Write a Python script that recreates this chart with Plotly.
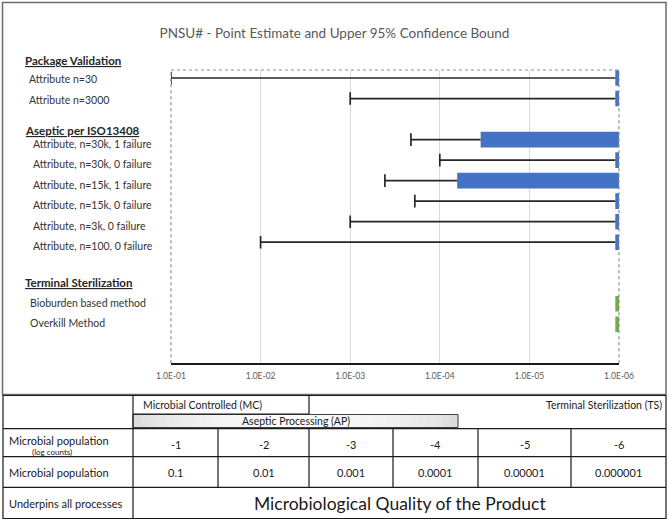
import numpy as np
import plotly.graph_objects as go

W, H = 669, 524

title = 'PNSU# - Point Estimate and Upper 95% Confidence Bound'

# chart data (point estimate and upper 95% bound)
pkg_labels = ['Attribute n=30', 'Attribute n=3000']
pkg_point = [1.1e-6, 1.1e-6]
pkg_upper = [1.0e-1, 1.0e-3]

aseptic_labels = ['Attribute, n=30k, 1 failure', 'Attribute, n=30k, 0 failure',
                  'Attribute, n=15k, 1 failure', 'Attribute, n=15k, 0 failure',
                  'Attribute, n=3k, 0 failure', 'Attribute, n=100, 0 failure']
aseptic_point = [3.5e-5, 1.1e-6, 6.4e-5, 1.1e-6, 1.1e-6, 1.1e-6]
aseptic_upper = [2.1e-4, 1.0e-4, 4.1e-4, 1.9e-4, 1.0e-3, 1.0e-2]

terminal_labels = ['Bioburden based method', 'Overkill Method']
terminal_point = [1.1e-6, 1.1e-6]

group_titles = ['Package Validation', 'Aseptic per ISO13408', 'Terminal Sterilization']

tick_vals = [1e-1, 1e-2, 1e-3, 1e-4, 1e-5, 1e-6]
tick_text = ['1.0E-01', '1.0E-02', '1.0E-03', '1.0E-04', '1.0E-05', '1.0E-06']

# table under the chart
header_mc = 'Microbial Controlled (MC)'
header_ts = 'Terminal Sterilization (TS)'
header_ap = 'Aseptic Processing (AP)'
row_titles = ['Microbial population', 'Microbial population', 'Underpins all processes']
row_sub = '(log counts)'
log_counts = ['-1', '-2', '-3', '-4', '-5', '-6']
populations = ['0.1', '0.01', '0.001', '0.0001', '0.00001', '0.000001']
footer = 'Microbiological Quality of the Product'

FONT = 'Lato'
BLUE = '#4472C4'
GREEN = '#70AD47'
floor = 1e-6


def fx(x):
    return x / W


def fy(y):
    return 1 - y / H


# category slots, blank ones keep the gaps between groups
cats = pkg_labels + [' '] + aseptic_labels + ['  ', '   '] + terminal_labels

blue_labels = pkg_labels + aseptic_labels
blue_point = np.array(pkg_point + aseptic_point)
blue_upper = np.array(pkg_upper + aseptic_upper)

fig = go.Figure()

fig.add_trace(go.Bar(y=blue_labels, x=blue_point - floor, base=floor,
                     orientation='h', width=0.76,
                     marker=dict(color=BLUE, line_width=0)))
fig.add_trace(go.Bar(y=terminal_labels, x=np.array(terminal_point) - floor, base=floor,
                     orientation='h', width=0.76,
                     marker=dict(color=GREEN, line_width=0)))

# whiskers to the upper bound
wx, wy = [], []
for lab, p, u in zip(blue_labels, blue_point, blue_upper):
    wx += [p, u, None]
    wy += [lab, lab, None]
fig.add_trace(go.Scatter(x=wx, y=wy, mode='lines',
                         line=dict(color='#262626', width=1.7)))
fig.add_trace(go.Scatter(x=blue_upper, y=blue_labels, mode='markers',
                         marker=dict(symbol='line-ns', size=9,
                                     line=dict(color='#262626', width=1.7))))

fig.update_layout(
    width=W, height=H, autosize=False,
    margin=dict(l=0, r=0, t=0, b=0, pad=0, autoexpand=False),
    paper_bgcolor='white', plot_bgcolor='white',
    showlegend=False, barmode='overlay',
    font=dict(family=FONT, color='#404040'),
    title=dict(text=title, x=0.5, xanchor='center', y=fy(33), yanchor='middle',
               font=dict(family=FONT, size=13.5, color='#595959')),
    xaxis=dict(type='log', range=[-1, -6], domain=[fx(171), fx(619)],
               tickvals=tick_vals, ticktext=tick_text, ticks='',
               tickfont=dict(size=8.5, color='#595959'), ticklabelstandoff=4,
               showgrid=True, gridcolor='#d9d9d9', gridwidth=1,
               showline=True, linecolor='#1a1a1a', linewidth=1.5,
               zeroline=False, automargin=False),
    yaxis=dict(type='category', categoryorder='array', categoryarray=cats,
               range=[13.9, -0.39], domain=[fy(363.3), fy(70)],
               showticklabels=False, showgrid=False, zeroline=False,
               showline=False, automargin=False),
)

# dotted plot-area border (top, left, right)
for x0, y0, x1, y1 in [(0, 1, 1, 1), (0, 0, 0, 1), (1, 0, 1, 1)]:
    fig.add_shape(type='line', xref='x domain', yref='y domain',
                  x0=x0, y0=y0, x1=x1, y1=y1,
                  line=dict(color='#8c8c8c', width=1.2, dash='dot'))

# outer chart frame
fig.add_shape(type='rect', xref='paper', yref='paper',
              x0=fx(2.5), y0=fy(394.5), x1=fx(666), y1=fy(2.5),
              line=dict(color='#6b6b6b', width=1.5))

# row labels
label_x = {}
label_shift = {}
for lab in pkg_labels:
    label_x[lab], label_shift[lab] = 27, -1
for lab in aseptic_labels:
    label_x[lab], label_shift[lab] = 31, -4
for lab in terminal_labels:
    label_x[lab], label_shift[lab] = 28, 1
for lab in pkg_labels + aseptic_labels + terminal_labels:
    fig.add_annotation(x=fx(label_x[lab]), xref='paper', y=lab, yref='y',
                       yshift=label_shift[lab],
                       text=lab, showarrow=False, xanchor='left', yanchor='middle',
                       font=dict(size=10.5, color='#333333'))
for txt, ypix in zip(group_titles, [60.7, 130.7, 282]):
    fig.add_annotation(x=fx(23), xref='paper', y=fy(ypix), yref='paper',
                       text='<b><u>' + txt + '</u></b>', showarrow=False,
                       xanchor='left', yanchor='middle',
                       font=dict(size=11.5, color='#262626'))

# ---- table ----
TL = dict(color='#1a1a1a', width=1.2)
col_x = [133, 218, 309, 393, 478, 571, 666]
t_top, t_bot = 395.5, 518.5
row_y = [428.7, 456.7, 487.3]


def hline(x0, x1, y):
    fig.add_shape(type='line', xref='paper', yref='paper',
                  x0=fx(x0), x1=fx(x1), y0=fy(y), y1=fy(y), line=TL)


def vline(x, y0, y1):
    fig.add_shape(type='line', xref='paper', yref='paper',
                  x0=fx(x), x1=fx(x), y0=fy(y0), y1=fy(y1), line=TL)


def text(x, y, s, size, anchor='center'):
    fig.add_annotation(x=fx(x), y=fy(y), xref='paper', yref='paper', text=s,
                       showarrow=False, xanchor=anchor, yanchor='middle',
                       font=dict(family=FONT, color='#1a1a1a', size=size))


# aseptic gradient box
n_strip = 40
ax0, ax1 = 133, 458
for i in range(n_strip):
    t = (i + 0.5) / n_strip
    g = int(214 + 41 * (1 - abs(2 * t - 1)) ** 0.5)
    fig.add_shape(type='rect', xref='paper', yref='paper',
                  x0=fx(ax0 + (ax1 - ax0) * i / n_strip),
                  x1=fx(ax0 + (ax1 - ax0) * (i + 1) / n_strip + 0.5),
                  y0=fy(427.5), y1=fy(414.5),
                  fillcolor='rgb(%d,%d,%d)' % (g, g, g), line_width=0, layer='below')
fig.add_shape(type='rect', xref='paper', yref='paper',
              x0=fx(ax0), x1=fx(ax1), y0=fy(427.5), y1=fy(414.5),
              line=dict(color='#404040', width=1))

fig.add_shape(type='rect', xref='paper', yref='paper',
              x0=fx(3), x1=fx(666), y0=fy(t_bot), y1=fy(t_top), line=TL)
for y in row_y:
    hline(3, 666, y)
vline(col_x[0], t_top, t_bot)
for x in col_x[1:-1]:
    vline(x, row_y[0], row_y[2])
vline(309, t_top, 414)
hline(133, 309, 414)

text(141, 404.5, header_mc, 10.5, 'left')
text(664, 404.5, header_ts, 10.5, 'right')
text((ax0 + ax1) / 2, 421, header_ap, 10.5)

text(7, 440, row_titles[0], 11, 'left')
text(52, 452, row_sub, 8)
text(7, 472.5, row_titles[1], 11, 'left')
text(7, 503, row_titles[2], 11, 'left')

for i in range(6):
    xc = (col_x[i] + col_x[i + 1]) / 2
    text(xc, 444, log_counts[i], 11)
    text(xc, 472.5, populations[i], 11)

text((col_x[0] + col_x[-1]) / 2, 503, footer, 17.5)

fig.write_html('out.html', config={'displayModeBar': False},
               post_script="document.body.style.margin='0';"
                           "document.body.style.overflow='hidden';")
